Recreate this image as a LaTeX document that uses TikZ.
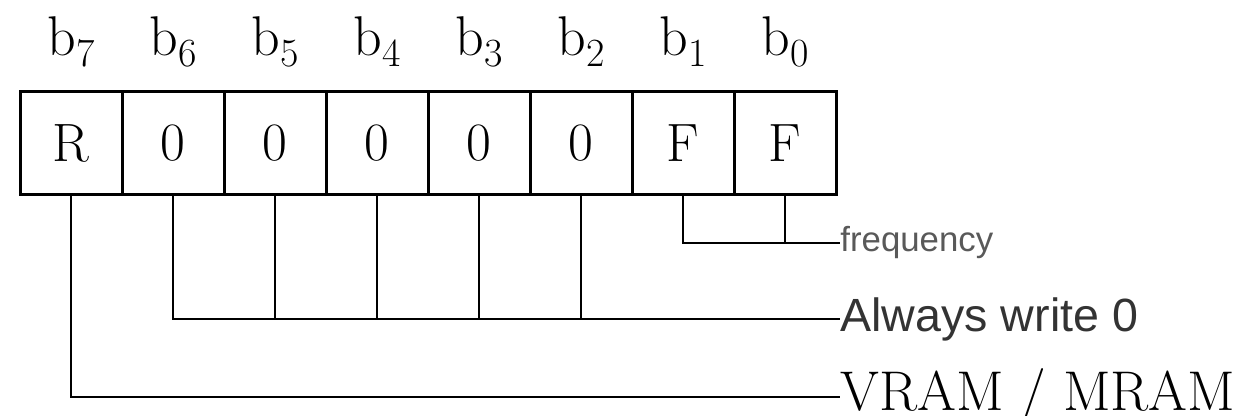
\documentclass[tikz,border=0pt]{standalone}
\usepackage{fontspec}
\newfontfamily\guisans{Liberation Sans}
\usetikzlibrary{positioning}

\newcommand{\bitname}[1]{b\raisebox{-.45ex}{\fontsize{20}{20}\selectfont #1}}

\begin{document}
\begin{tikzpicture}[x=0.5pt,y=-0.5pt,
  cell/.style={draw,line width=1.5pt,minimum width=51pt,minimum height=51.5pt,
    inner sep=0pt,font=\fontsize{27}{30}\selectfont},
  bit/.style={anchor=base,font=\fontsize{28}{30}\selectfont},
  wire/.style={line width=.9pt},
  note/.style={anchor=west,inner sep=0pt}]
  \useasboundingbox (0,0) rectangle (1247,416);
  % register cells and bit numbers
  \foreach \i/\val in {7/R,6/0,5/0,4/0,3/0,2/0,1/F,0/F} {
    \node[cell] (c\i) at ({71+102*(7-\i)},143.5) {\val};
    \node[bit] (b\i) at ({71+102*(7-\i)},56) {\bitname{\i}};
  }
  % field names
  \node[note,font=\guisans\fontsize{17.4}{20}\selectfont,text=black!65] (freq) at (840,243) {frequency};
  \node[note,font=\guisans\fontsize{23.3}{26}\selectfont,text=black!80] (always) at (840,319) {Always write 0};
  \node[note,font=\fontsize{28}{30}\selectfont] (vram) at (840,397) {VRAM / MRAM};
  % bit to field
  \draw[wire] (c1.south) |- (freq.west);
  \draw[wire] (c0.south) -- (c0.south |- freq.west);
  \draw[wire] (c6.south) |- (always.west);
  \foreach \i in {5,4,3,2}
    \draw[wire] (c\i.south) -- (c\i.south |- always.west);
  \draw[wire] (c7.south) |- (vram.west);
\end{tikzpicture}
\end{document}
